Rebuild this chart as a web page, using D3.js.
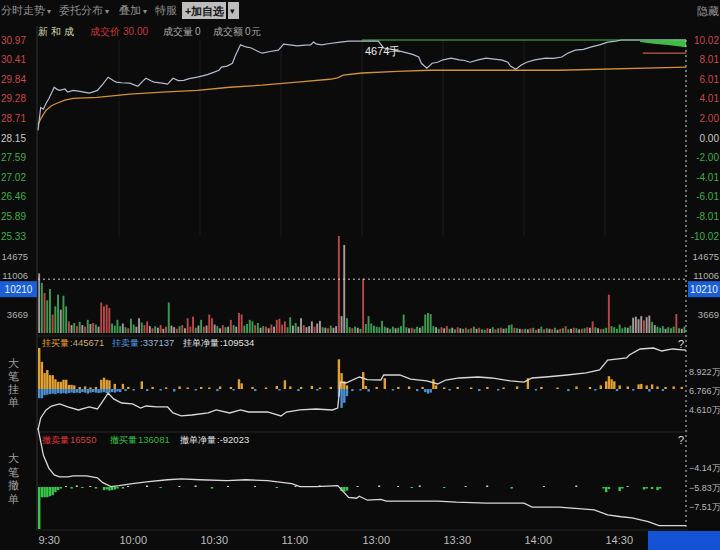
<!DOCTYPE html>
<html><head><meta charset="utf-8">
<script src="https://cdn.jsdelivr.net/npm/d3@7"></script>
<style>
html,body{margin:0;padding:0;background:#0b0b0b;}
svg{display:block;}
text{font-family:"Liberation Sans","DejaVu Sans",sans-serif;}
</style></head><body>
<svg id="c" width="720" height="550"></svg>
<script>
// ---------- DATA ----------
const stockName = "新和成";
const preClose = 28.15;
const priceTicks = [30.97,30.41,29.84,29.28,28.71,28.15,27.59,27.02,26.46,25.89,25.33];
const pctLabels = ["10.02","8.01","6.01","4.01","2.00","0.00","-2.00","-4.01","-6.01","-8.01","-10.02"];
const timeTicks = [0,30,60,90,120,150,180,210];
const timeLabels = ["9:30","10:00","10:30","11:00","13:00","13:30","14:00","14:30"];
const volTicks = [14675,11006,3669];
const crossVol = 10210;
const gdTicks = [8.922,6.766,4.610];
const cdTicks = [-4.14,-5.83,-7.51];

const priceLine = [[0,28.37],[1,29.03],[2,28.98],[3,29.15],[4,29.28],[6,29.61],[7,29.55],[8,29.52],[10,29.56],[11,29.47],[13,29.52],[15,29.50],[17,29.47],[19,29.44],[21,29.49],[22,29.52],[24,29.70],[26,29.90],[28,29.80],[29,29.76],[31,29.74],[34,29.73],[37,29.64],[39,29.80],[40,29.87],[42,29.79],[43,29.76],[46,29.73],[48,29.70],[50,29.87],[52,29.80],[54,29.81],[56,29.86],[59,29.90],[61,29.94],[63,29.98],[65,30.04],[67,30.10],[68,30.19],[70,30.22],[72,30.30],[73,30.50],[75,30.83],[77,30.77],[79,30.74],[81,30.66],[83,30.59],[86,30.64],[89,30.68],[91,30.85],[94,30.82],[96,30.80],[99,30.82],[101,30.83],[102,30.91],[103,30.86],[105,30.83],[108,30.87],[112,30.91],[115,30.94],[126,30.94],[128,30.74],[131,30.70],[134,30.65],[137,30.59],[139,30.55],[141,30.48],[142,30.30],[144,30.16],[146,30.30],[148,30.33],[150,30.40],[153,30.45],[156,30.40],[158,30.38],[160,30.33],[163,30.40],[166,30.45],[169,30.42],[172,30.39],[174,30.33],[175,30.22],[177,30.13],[179,30.25],[181,30.33],[184,30.40],[188,30.45],[191,30.44],[194,30.48],[196,30.58],[199,30.68],[202,30.70],[205,30.77],[208,30.83],[211,30.91],[214,30.94],[216,30.97],[240,30.97]];
const avgLine = [[0,28.54],[1,28.70],[3,28.95],[5,29.08],[7,29.15],[10,29.24],[13,29.29],[22,29.32],[34,29.41],[46,29.47],[59,29.52],[71,29.61],[83,29.67],[96,29.76],[108,29.84],[111,29.88],[113,29.96],[120,30.02],[133,30.07],[145,30.10],[193,30.10],[240,30.19]];
const limitLine = [[120,30.97],[240,30.97]];
const queueBand = [[223,30.94,30.91],[228,30.95,30.86],[234,30.96,30.82],[240,30.97,30.76]];
const refLine = [[224,30.59],[240,30.59]];

const volume = [
11300,9500,7600,6200,8350,3500,5060,7280,4430,7090,
5060,2215,1500,1900,1300,2100,1500,1200,2500,1700,
1900,1600,1200,5800,5060,5380,4750,1800,1400,2500,
1300,1800,1100,900,2700,1600,1200,2800,2000,1500,
2200,1300,900,1300,1000,1500,800,1200,5800,1400,
1100,800,1300,1500,900,2800,1200,3100,1000,1400,
2500,1200,1400,3500,2800,1600,1300,900,1500,1100,
1200,2500,1500,1200,3800,3500,1400,1700,2500,2200,
1500,1900,1000,1300,1200,900,1600,1200,2500,2700,
1600,2200,1100,3000,1400,1900,1200,2800,1500,1100,
1300,2200,1200,1800,2300,1100,1000,900,1400,1000,
1300,18400,3200,16700,2800,1100,900,1200,1000,800,
10300,1700,3200,1800,1400,1200,1100,2300,1200,1000,
800,1200,900,1000,1300,3500,1100,900,1000,800,
1200,1000,1300,3500,3800,3600,1300,1100,800,1100,
900,1300,800,1000,700,1100,900,800,1000,700,
900,1200,800,1000,700,600,900,800,1100,700,
900,1000,800,900,1500,1600,1000,900,800,700,
800,700,900,1000,600,800,1200,700,900,800,
700,1000,600,800,900,1300,700,800,1000,900,
700,800,900,1100,1000,2200,1100,900,700,800,
1000,7280,1300,1100,800,1600,900,1100,1000,1400,
2900,3100,2600,3200,2400,3000,3300,2100,1500,1200,
1000,1300,800,1100,900,1200,3600,900,800,1200];
const volDir = ("wgrggrggwg"+"grwgrgwrgw"+"rgwrrrrggg"+"gwgrggwwgr"+"rwrgwrwrgw"+"wrgrwrrrgw"+"grwrrwgwrg"+"wrgwrrgggg"+
  "rgwgrwrwrr"+"rrggwgwwrw"+"wwrwwgwrgw"+"wrwwggrgwg"+"rggggggggw"+"ggwggggwrg"+"gwgggggwgr"+"wrgwgrwgrg"+
  "rgwrggrwgr"+"grwgggrgwr"+"gwrgrwgrgw"+"rgwrgrgwrg"+"wrgrwrgwrg"+"grggggggwg"+"wwwwrwwgwg"+"ggwgggrgwg").split("");

const gdTotals = {buy:"445671", sell:"337137", net:"109534"};
const gdBuy = [[0,8000],[1,5300],[2,3100],[3,3700],[4,2700],[5,2700],[6,1900],[7,1400],[8,1400],[9,1800],[10,1800],[11,800],[12,800],[13,700],[15,400],[17,500],[19,300],[21,400],[23,1800],[24,2200],[25,1800],[26,1700],[28,1000],[31,1000],[33,400],[38,1500],[42,400],[47,300],[52,500],[55,300],[60,400],[63,300],[67,500],[71,400],[74,1900],[75,1100],[79,400],[84,300],[88,600],[91,1700],[93,500],[97,400],[101,600],[104,300],[108,400],[111,5800],[112,3100],[113,1500],[114,700],[120,3300],[121,600],[125,400],[128,2100],[133,400],[137,500],[142,400],[146,1900],[147,700],[150,300],[155,400],[160,300],[166,400],[172,300],[177,500],[181,2100],[186,400],[192,300],[199,500],[204,400],[208,700],[210,1500],[211,2500],[212,1900],[213,1500],[215,700],[218,500],[222,900],[223,1000],[225,700],[227,900],[229,500],[232,400],[235,500],[238,400]];
const gdSell = [[0,1800],[1,1800],[2,1200],[3,1100],[4,1000],[5,900],[6,1000],[7,800],[8,900],[9,800],[10,900],[11,800],[12,700],[13,800],[14,700],[15,800],[16,600],[17,700],[18,900],[19,700],[20,600],[21,700],[22,800],[23,700],[24,600],[25,800],[26,700],[27,600],[28,700],[29,500],[30,600],[32,400],[35,300],[40,400],[45,300],[50,500],[58,300],[66,400],[72,300],[80,400],[89,300],[96,400],[103,300],[111,1500],[112,3700],[113,2700],[114,1400],[116,400],[119,300],[122,500],[131,300],[140,400],[143,600],[144,900],[145,700],[152,300],[163,400],[170,300],[184,300],[196,400],[206,300],[214,400],[220,300],[226,500],[231,400]];
const gdNet = [[0,2.23],[1,3.59],[3,4.50],[5,4.95],[8,5.18],[11,4.84],[15,4.50],[19,4.84],[22,4.61],[23,5.06],[25,5.97],[26,6.43],[28,5.75],[31,5.29],[35,5.18],[38,4.72],[40,4.95],[44,4.84],[48,4.84],[50,4.16],[53,3.82],[57,3.93],[63,4.16],[66,4.50],[71,4.16],[75,4.50],[78,4.27],[85,4.27],[90,3.82],[92,4.27],[97,4.50],[103,4.61],[109,4.50],[111,4.72],[112,7.67],[114,7.56],[119,8.24],[122,7.95],[127,7.90],[128,8.47],[134,8.47],[138,8.01],[144,7.79],[148,7.45],[151,7.90],[156,8.13],[163,8.24],[168,8.13],[175,7.79],[180,7.67],[183,8.13],[188,8.24],[196,8.47],[203,8.70],[208,9.04],[211,10.17],[218,10.40],[219,10.74],[223,11.42],[228,11.53],[231,11.19],[235,11.42],[240,11.30]];

const cdTotals = {sell:"16550", buy:"136081", net:"-92023"};
const cdBuy = [[0,8200],[1,2000],[2,2000],[3,2000],[4,1800],[5,1600],[6,1000],[7,600],[8,300],[12,300],[16,200],[21,300],[24,600],[25,500],[26,700],[27,600],[28,500],[29,300],[31,300],[45,200],[64,300],[88,200],[112,800],[113,900],[114,700],[138,200],[150,200],[175,300],[209,300],[210,1000],[211,400],[215,800],[216,300],[224,500],[225,300],[227,400],[229,600],[230,300]];
const cdSell = [[10,200],[14,300],[19,200],[33,200],[40,300],[52,200],[58,300],[70,200],[80,200],[95,200],[104,300],[118,200],[126,300],[133,200],[141,300],[158,200],[166,300],[187,200],[199,300],[218,200]];
const cdNet = [[0,-0.78],[2,-3.13],[4,-4.23],[6,-4.82],[8,-4.99],[11,-4.99],[13,-4.90],[18,-4.90],[22,-5.07],[24,-5.49],[27,-5.83],[30,-5.75],[35,-5.58],[41,-5.41],[48,-5.24],[53,-5.16],[60,-5.24],[70,-5.32],[77,-5.24],[85,-5.32],[91,-5.49],[94,-5.58],[97,-5.83],[103,-5.83],[111,-5.75],[113,-6.25],[115,-6.76],[118,-6.84],[119,-6.67],[122,-7.01],[127,-6.93],[129,-7.09],[138,-7.09],[148,-7.09],[155,-7.18],[166,-7.26],[180,-7.26],[183,-7.60],[193,-7.60],[206,-7.85],[211,-8.27],[216,-8.44],[220,-8.53],[226,-8.86],[230,-9.20],[240,-9.20]];

// ---------- DRAW ----------
const svg = d3.select('#c');
svg.append('rect').attr('width',720).attr('height',550).attr('fill','#0b0b0b');

const x = d3.scaleLinear().domain([0,240]).range([38,686]);
const yP = d3.scaleLinear().domain([25.33,30.97]).range([236,40]);
const yV = d3.scaleLinear().domain([0,18400]).range([333,236]);
const yGL = d3.scaleLinear().domain([4.610,8.922]).range([409,371]);
const yGB = d3.scaleLinear().domain([0,8000]).range([389,348]);
const yCL = d3.scaleLinear().domain([-7.51,-4.14]).range([506,467]);
const yCB = d3.scaleLinear().domain([0,8000]).range([487,446]);

const cjk = "Noto Sans CJK SC";
function txt(g, s, xx, yy, fill, size, anchor, cls){
  return g.append('text').attr('x',xx).attr('y',yy).attr('fill',fill)
    .attr('font-size',size||10).attr('text-anchor',anchor||'start')
    .attr('font-family', cls==='cjk' ? cjk : null).text(s);
}
function pair(g, label, val, xx, yy, c1, c2){
  const t = txt(g,label,xx,yy,c1,9,'start','cjk');
  const w = t.node().getComputedTextLength();
  txt(g,val,xx+w+1,yy,c2,9.5);
}

// toolbar
const tb = svg.append('g');
[["分时走势",1],["委托分布",59],["叠加",119],["特服",155]].forEach(([s,xx],i)=>{
  const t = txt(tb,s,xx,14,'#8f8f8f',10.5,'start','cjk');
  if(i<3) txt(tb,'▾',xx+t.node().getComputedTextLength()+2,14,'#8f8f8f',8);
});
tb.append('rect').attr('x',182).attr('y',2).attr('width',44).attr('height',17).attr('fill','#bdbdbd');
txt(tb,'+加自选',185,15,'#111',10.5,'start','cjk').attr('font-weight','bold');
tb.append('rect').attr('x',228).attr('y',2).attr('width',11).attr('height',17).attr('fill','#bdbdbd');
txt(tb,'▾',230,14,'#111',9);
txt(tb,'隐藏',697,15,'#9a9a9a',10.5,'start','cjk');

// grid & frame
const grid = svg.append('g');
timeTicks.slice(1).concat([240]).forEach(t=>{
  grid.append('line').attr('x1',x(t)).attr('x2',x(t)).attr('y1',40).attr('y2',236).attr('stroke','#1d1d1d');
});
grid.append('line').attr('x1',37).attr('x2',37).attr('y1',26).attr('y2',530).attr('stroke','#333');
[336,432,530].forEach(yy=>grid.append('line').attr('x1',37).attr('x2',688).attr('y1',yy).attr('y2',yy).attr('stroke','#262626'));

// header row
const hd = svg.append('g');
txt(hd,stockName,38,35,'#d8d8a4',10,'start','cjk').attr('letter-spacing',3);
txt(hd,'成交价',90,35,'#c83838',10,'start','cjk');
txt(hd,'30.00',123,35,'#c83838',10);
txt(hd,'成交量',163,35,'#a8a8a8',10,'start','cjk');
txt(hd,'0',195,35,'#a8a8a8',10);
txt(hd,'成交额',213,35,'#a8a8a8',10,'start','cjk');
txt(hd,'0元',245,35,'#a8a8a8',10,'start','cjk');

// price axes
const pColor = v => v > preClose+0.001 ? '#c84848' : (v < preClose-0.001 ? '#3fae4a' : '#c8c8c8');
const axL = svg.append('g').attr('transform','translate(26,0)')
  .call(d3.axisLeft(yP).tickValues(priceTicks).tickSize(0).tickPadding(0).tickFormat(d3.format('.2f')));
axL.select('.domain').remove();
axL.selectAll('text').attr('fill',d=>pColor(d)).attr('font-size',10).attr('font-family','Liberation Sans');
const axR = svg.append('g').attr('transform','translate(719,0)')
  .call(d3.axisLeft(yP).tickValues(priceTicks).tickSize(0).tickPadding(0).tickFormat((d,i)=>pctLabels[i]));
axR.select('.domain').remove();
axR.selectAll('text').attr('fill',d=>pColor(d)).attr('font-size',10).attr('font-family','Liberation Sans');

// price lines
const line = (ys)=>d3.line().x(d=>x(d[0])).y(d=>ys(d[1]));
svg.append('path').datum(avgLine).attr('d',line(yP)).attr('fill','none').attr('stroke','#d2903a').attr('stroke-width',1.3);
svg.append('path').datum(limitLine).attr('d',line(yP)).attr('fill','none').attr('stroke','#3cc24a').attr('stroke-width',1.2);
svg.append('path').datum(refLine).attr('d',line(yP)).attr('fill','none').attr('stroke','#c0604e').attr('stroke-width',1.2);
svg.append('path').datum(priceLine).attr('d',line(yP)).attr('fill','none').attr('stroke','#b3bdd0').attr('stroke-width',1.2);
svg.append('path').datum(queueBand)
  .attr('d',d3.area().x(d=>x(d[0])).y0(d=>yP(d[2])).y1(d=>yP(d[1])))
  .attr('fill','#45d04a').attr('opacity',0.9);
txt(svg,'4674手',365,55,'#e8e8e8',11,'start','cjk');

// volume
const vColor = {r:'#b54a47', g:'#3e9c52', w:'#a89a9a'};
svg.append('g').selectAll('rect').data(volume).join('rect')
  .attr('x',(d,i)=>x(i)+0.2).attr('width',1.9)
  .attr('y',d=>yV(d)).attr('height',d=>yV(0)-yV(d))
  .attr('fill',(d,i)=>vColor[volDir[i]]);
volTicks.forEach(v=>{
  txt(svg,d3.format('d')(v),28,yV(v)+4,'#b0b0b0',9.5,'end');
  txt(svg,d3.format('d')(v),719,yV(v)+4,'#b0b0b0',9.5,'end');
});
// crosshair
svg.append('line').attr('x1',38).attr('x2',686).attr('y1',yV(crossVol)).attr('y2',yV(crossVol))
  .attr('stroke','#cfcfcf').attr('stroke-dasharray','2,3');
svg.append('line').attr('x1',686).attr('x2',686).attr('y1',40).attr('y2',530)
  .attr('stroke','#cfcfcf').attr('stroke-dasharray','2,3');
[[0,37],[688,32]].forEach(([bx,bw])=>{
  svg.append('rect').attr('x',bx).attr('y',yV(crossVol)+2).attr('width',bw).attr('height',16).attr('fill','#1b5fd6');
  txt(svg,crossVol,bx+bw/2,yV(crossVol)+14,'#e8eeff',10,'middle');
});

// 挂单 panel
const gd = svg.append('g');
gd.selectAll('.b').data(gdBuy).join('rect').attr('x',d=>x(d[0])).attr('width',2.4)
  .attr('y',d=>yGB(d[1])).attr('height',d=>yGB(0)-yGB(d[1])).attr('fill','#e2a030');
gd.selectAll('.s').data(gdSell).join('rect').attr('x',d=>x(d[0])).attr('width',2.4)
  .attr('y',yGB(0)).attr('height',d=>yGB(0)-yGB(d[1])).attr('fill','#4a8fd4');
gd.append('path').datum(gdNet).attr('d',line(yGL)).attr('fill','none').attr('stroke','#d8d8d8').attr('stroke-width',1.3);
pair(gd,'挂买量',':'+gdTotals.buy,42,346,'#e2a030','#c9a772');
pair(gd,'挂卖量',':'+gdTotals.sell,112,346,'#4a9ae0','#93b4d6');
pair(gd,'挂单净量',':'+gdTotals.net,183,346,'#e0e0e0','#e0e0e0');
gdTicks.forEach(v=>txt(gd,d3.format('.3f')(v)+'万',689,yGL(v)+4,'#b8b8b8',9));
txt(gd,'?',678,348,'#dddddd',11);
["大","笔","挂","单"].forEach((c,i)=>txt(gd,c,13,367+i*13,'#a0a0a0',11,'middle','cjk'));

// 撤单 panel
const cd = svg.append('g');
cd.selectAll('.b').data(cdBuy).join('rect').attr('x',d=>x(d[0])).attr('width',2.4)
  .attr('y',yCB(0)).attr('height',d=>yCB(0)-yCB(d[1])).attr('fill','#38c84a');
cd.selectAll('.s').data(cdSell).join('rect').attr('x',d=>x(d[0])).attr('width',2)
  .attr('y',d=>yCB(d[1])).attr('height',d=>yCB(0)-yCB(d[1])).attr('fill','#d8c8b0');
cd.append('path').datum(cdNet).attr('d',line(yCL)).attr('fill','none').attr('stroke','#d8d8d8').attr('stroke-width',1.3);
pair(cd,'撤卖量',' '+cdTotals.sell,42,443,'#e03434','#d04040');
pair(cd,'撤买量',' '+cdTotals.buy,110,443,'#34c444','#34b444');
pair(cd,'撤单净量',':'+cdTotals.net,180,443,'#e0e0e0','#e0e0e0');
cdTicks.forEach(v=>txt(cd,d3.format('.2f')(v)+'万',689,yCL(v)+4,'#b8b8b8',9));
txt(cd,'?',678,444,'#dddddd',11);
["大","笔","撤","单"].forEach((c,i)=>txt(cd,c,13,462+i*13.5,'#a0a0a0',11,'middle','cjk'));

// time axis
const ax = svg.append('g').attr('transform','translate(0,533)')
  .call(d3.axisBottom(x).tickValues(timeTicks).tickSize(0).tickPadding(0).tickFormat((d,i)=>timeLabels[i]));
ax.select('.domain').remove();
ax.selectAll('text').attr('text-anchor','start').attr('dy','1em').attr('fill','#bdbdbd')
  .attr('font-size',11).attr('font-family','Liberation Sans');
svg.append('rect').attr('x',648).attr('y',531).attr('width',72).attr('height',19).attr('fill','#1452d4');
</script>
</body></html>
